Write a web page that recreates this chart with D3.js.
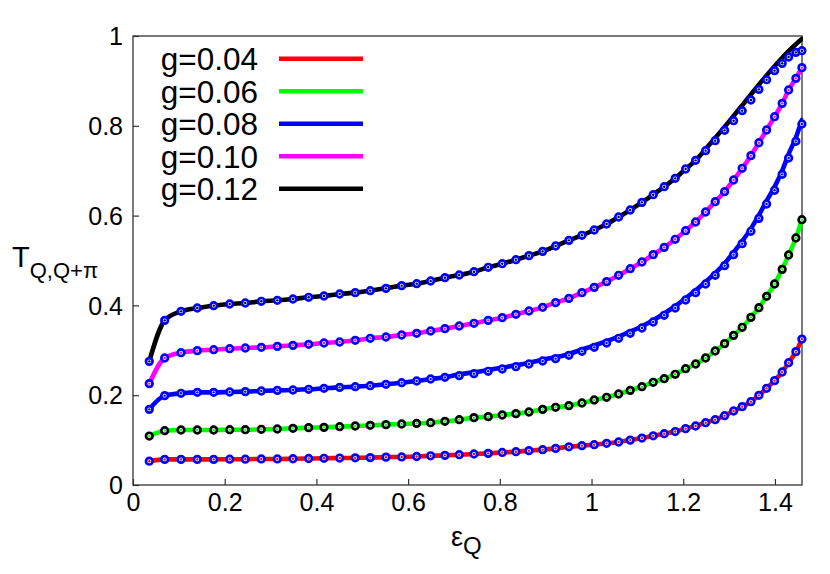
<!DOCTYPE html>
<html>
<head>
<meta charset="utf-8">
<script src="https://cdn.jsdelivr.net/npm/d3@7"></script>
<style>
  html, body { margin: 0; padding: 0; background: #fff; }
  svg { display: block; }
  text { font-family: "Liberation Sans", Arial, Helvetica, sans-serif; fill: #000; }
</style>
</head>
<body>
<svg id="chart" width="830" height="574"></svg>
<script>
// ---------- data ----------
const eps = [0.0355, 0.0691, 0.1047, 0.1402, 0.1760, 0.2109, 0.2449, 0.2798, 0.3147, 0.3489,
  0.3831, 0.4165, 0.4507, 0.4847, 0.5174, 0.5517, 0.5859, 0.6186, 0.6491, 0.6803,
  0.7115, 0.7436, 0.7747, 0.8053, 0.8351, 0.8635, 0.8934, 0.9217, 0.9507, 0.9791,
  1.0059, 1.0329, 1.0591, 1.0844, 1.1099, 1.1345, 1.1585, 1.1825, 1.2052, 1.2270,
  1.2488, 1.2697, 1.2902, 1.3098, 1.3286, 1.3476, 1.3650, 1.3818, 1.3992, 1.4158,
  1.4298, 1.4457, 1.4588];

const g004 = [0.053, 0.057, 0.057, 0.057, 0.057, 0.0575, 0.0575, 0.058, 0.058, 0.0585,
  0.059, 0.0595, 0.060, 0.0605, 0.061, 0.062, 0.0625, 0.0635, 0.065, 0.066,
  0.0675, 0.069, 0.0705, 0.0725, 0.0742, 0.0765, 0.0787, 0.0815, 0.085, 0.0876,
  0.0898, 0.0928, 0.0958, 0.100, 0.1045, 0.1095, 0.1143, 0.119, 0.1255, 0.1314,
  0.1388, 0.1455, 0.1544, 0.1648, 0.1745, 0.1856, 0.1997, 0.2153, 0.2324, 0.2517,
  0.2724, 0.297, 0.325];

const g006 = [0.109, 0.121, 0.1225, 0.1225, 0.1225, 0.1232, 0.1232, 0.124, 0.1247, 0.1262,
  0.1277, 0.1284, 0.1299, 0.1314, 0.1329, 0.1344, 0.1359, 0.1373, 0.1388, 0.1418,
  0.1455, 0.1500, 0.1522, 0.1559, 0.1589, 0.1626, 0.1685, 0.1730, 0.1767, 0.1826,
  0.1893, 0.1953, 0.2027, 0.2108, 0.2190, 0.2287, 0.2368, 0.2465, 0.2591, 0.2695,
  0.2829, 0.2984, 0.3148, 0.3333, 0.3512, 0.3734, 0.3949, 0.4202, 0.4477, 0.4803,
  0.5122, 0.5501, 0.5909];

const g008Line = [0.1685, 0.199, 0.2042, 0.2064, 0.2064, 0.2071, 0.2079, 0.2094, 0.2108, 0.2116,
  0.2131, 0.2153, 0.2175, 0.219, 0.2212, 0.2242, 0.2279, 0.2316, 0.2361, 0.2398,
  0.2465, 0.2510, 0.2562, 0.2614, 0.2665, 0.2725, 0.2792, 0.2844, 0.2918, 0.3017,
  0.3106, 0.3203, 0.3307, 0.3418, 0.3537, 0.3670, 0.3819, 0.3982, 0.4162, 0.4334,
  0.4527, 0.4720, 0.4935, 0.5180, 0.5430, 0.5710, 0.6009, 0.6330, 0.6640, 0.7000,
  0.7370, 0.7740, 0.8130];
const g008Pts = [0.1685, 0.199, 0.2042, 0.2064, 0.2064, 0.2071, 0.2079, 0.2094, 0.2108, 0.2116,
  0.2131, 0.2153, 0.2175, 0.219, 0.2212, 0.2242, 0.2279, 0.2316, 0.2361, 0.2398,
  0.2435, 0.2480, 0.2532, 0.2584, 0.2635, 0.2695, 0.2762, 0.2814, 0.2888, 0.2977,
  0.3066, 0.3163, 0.3267, 0.3378, 0.3497, 0.3630, 0.3779, 0.3942, 0.4120, 0.4284,
  0.4477, 0.4670, 0.4885, 0.5130, 0.5375, 0.5650, 0.5939, 0.6258, 0.6563, 0.6919,
  0.7283, 0.7654, 0.8040];

const g010 = [0.2257, 0.2829, 0.2947, 0.2992, 0.3014, 0.3036, 0.3051, 0.3066, 0.3088, 0.3110,
  0.3133, 0.3163, 0.3185, 0.3222, 0.3267, 0.3296, 0.3341, 0.3378, 0.3430, 0.3482,
  0.3541, 0.3601, 0.3667, 0.3727, 0.3801, 0.3875, 0.3957, 0.4061, 0.4157, 0.4284,
  0.4402, 0.4529, 0.4670, 0.4818, 0.4967, 0.5130, 0.5293, 0.5472, 0.5664, 0.5857,
  0.6080, 0.6310, 0.6533, 0.6793, 0.7053, 0.7335, 0.7624, 0.7906, 0.8203, 0.8500,
  0.8797, 0.9057, 0.9295];

const g012Line = [0.2754, 0.3667, 0.3868, 0.3942, 0.3994, 0.4031, 0.4053, 0.4091, 0.4113, 0.4143,
  0.4180, 0.4209, 0.4254, 0.4284, 0.4328, 0.4380, 0.4440, 0.4484, 0.4543, 0.4618,
  0.4677, 0.4751, 0.4848, 0.4929, 0.5018, 0.5108, 0.5204, 0.5323, 0.5449, 0.5561,
  0.5679, 0.5813, 0.5969, 0.6125, 0.6295, 0.6466, 0.6644, 0.6830, 0.7038, 0.7231,
  0.7483, 0.7728, 0.7976, 0.8219, 0.8456, 0.8697, 0.8916, 0.9123, 0.9328, 0.9514,
  0.9661, 0.9817, 0.9935];
const g012Pts = [0.2754, 0.3667, 0.3868, 0.3942, 0.3994, 0.4031, 0.4053, 0.4091, 0.4113, 0.4143,
  0.4180, 0.4209, 0.4254, 0.4284, 0.4328, 0.4380, 0.4440, 0.4484, 0.4543, 0.4618,
  0.4677, 0.4751, 0.4848, 0.4929, 0.5018, 0.5108, 0.5204, 0.5323, 0.5449, 0.5561,
  0.5679, 0.5813, 0.5969, 0.6125, 0.6295, 0.6466, 0.6644, 0.6830, 0.7038, 0.7231,
  0.7446, 0.7669, 0.7899, 0.8114, 0.8337, 0.8575, 0.8812, 0.9027, 0.9228, 0.9391,
  0.9532, 0.9636, 0.9673];

const seriesNames = ["g=0.04", "g=0.06", "g=0.08", "g=0.10", "g=0.12"];
const lineColors = ["#ff0000", "#00ff00", "#0000ff", "#ff00ff", "#000000"];
const markerColors = ["#0000ff", "#000000", "#0000ff", "#0000ff", "#0000ff"];
const lineValues = [g004, g006, g008Line, g010, g012Line];
const pointValues = [g004, g006, g008Pts, g010, g012Pts];

const xTicks = [0, 0.2, 0.4, 0.6, 0.8, 1, 1.2, 1.4];
const xTickLabels = ["0", "0.2", "0.4", "0.6", "0.8", "1", "1.2", "1.4"];
const yTicks = [0, 0.2, 0.4, 0.6, 0.8, 1];
const yTickLabels = ["0", "0.2", "0.4", "0.6", "0.8", "1"];

// ---------- layout ----------
const svg = d3.select("#chart");
const m = { left: 133, right: 802, top: 36, bottom: 485 };
const x = d3.scaleLinear().domain([0, 1.459]).range([m.left, m.right]);
const y = d3.scaleLinear().domain([0, 1]).range([m.bottom, m.top]);

svg.append("defs").append("clipPath").attr("id", "plotclip")
  .append("rect").attr("x", m.left).attr("y", m.top - 2)
  .attr("width", m.right - m.left + 1).attr("height", m.bottom - m.top + 2);

// axes (ticks inward)
const xAxis = d3.axisBottom(x).tickValues(xTicks)
  .tickFormat((d, i) => xTickLabels[i]).tickSizeInner(-6).tickSizeOuter(0).tickPadding(10);
const yAxis = d3.axisLeft(y).tickValues(yTicks)
  .tickFormat((d, i) => yTickLabels[i]).tickSizeInner(-6).tickSizeOuter(0).tickPadding(10);

const gx = svg.append("g").attr("transform", `translate(0,${m.bottom})`).call(xAxis);
const gy = svg.append("g").attr("transform", `translate(${m.left},0)`).call(yAxis);
[gx, gy].forEach(g => {
  g.select(".domain").remove();
  g.selectAll(".tick line").attr("stroke", "#333").attr("stroke-width", 1.2);
  g.selectAll(".tick text").attr("font-size", 25)
    .attr("font-family", "'Liberation Sans', Arial, sans-serif").attr("fill", "#000");
});
gx.selectAll(".tick text").attr("dy", "0.78em").attr("y", 6);
gy.selectAll(".tick text").attr("x", -10).attr("dy", "0.35em");

// frame
svg.append("rect").attr("x", m.left).attr("y", m.top)
  .attr("width", m.right - m.left).attr("height", m.bottom - m.top)
  .attr("fill", "none").attr("stroke", "#333").attr("stroke-width", 1.3);

// curves
const plot = svg.append("g").attr("clip-path", "url(#plotclip)");
const line = d3.line().curve(d3.curveMonotoneX).x(d => x(d[0])).y(d => y(d[1]));
lineValues.forEach((vals, k) => {
  plot.append("path")
    .datum(eps.map((e, i) => [e, vals[i]]))
    .attr("fill", "none").attr("stroke", lineColors[k]).attr("stroke-width", 4.6)
    .attr("stroke-linejoin", "round").attr("stroke-linecap", "round")
    .attr("d", line);
});
pointValues.forEach((vals, k) => {
  const pts = eps.map((e, i) => [e, vals[i]]);
  const g = svg.append("g");
  g.selectAll("circle.ring").data(pts).join("circle")
    .attr("class", "ring")
    .attr("cx", d => x(d[0])).attr("cy", d => y(d[1])).attr("r", 3.3)
    .attr("fill", "#fff").attr("stroke", markerColors[k]).attr("stroke-width", 2.7);
  g.selectAll("circle.dot").data(pts).join("circle")
    .attr("class", "dot")
    .attr("cx", d => x(d[0])).attr("cy", d => y(d[1])).attr("r", 1.2)
    .attr("fill", lineColors[k]);
});

// legend
const legend = svg.append("g");
seriesNames.forEach((name, k) => {
  const ly = 58.7 + k * 32.5;
  legend.append("text").attr("x", 258).attr("y", ly).attr("dy", "0.36em")
    .attr("text-anchor", "end").attr("font-size", 31.5).text(name);
  legend.append("line").attr("x1", 279).attr("x2", 363).attr("y1", ly).attr("y2", ly)
    .attr("stroke", lineColors[k]).attr("stroke-width", 4.6);
});

// axis titles
const yt = svg.append("text").attr("x", 12).attr("y", 267);
yt.append("tspan").attr("font-size", 29).text("T");
yt.append("tspan").attr("font-size", 22).attr("dy", 11).text("Q,Q+π");

const xt = svg.append("text").attr("x", 451).attr("y", 546);
xt.append("tspan").attr("font-size", 27).text("ε");
xt.append("tspan").attr("font-size", 24).attr("dy", 8).text("Q");
</script>
</body>
</html>
